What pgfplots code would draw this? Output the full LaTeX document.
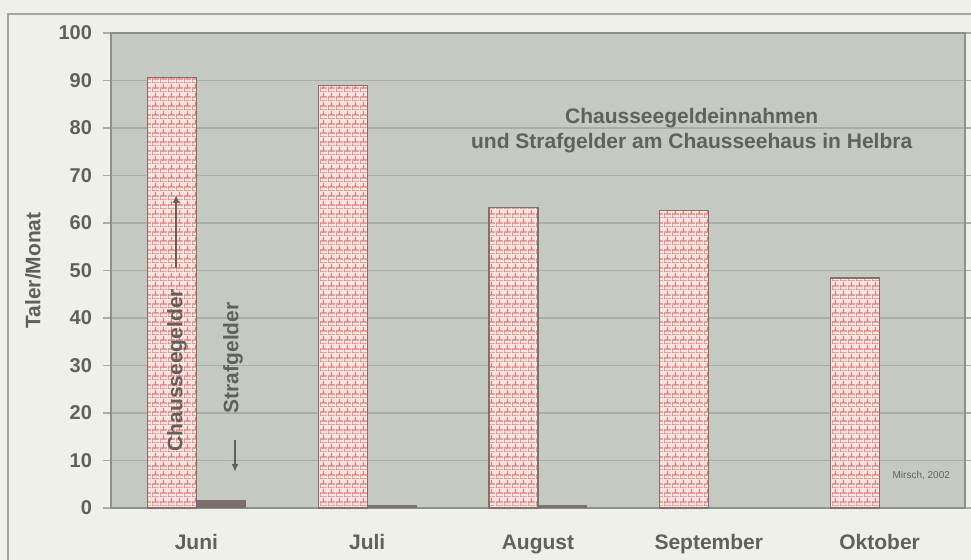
\documentclass[border=0pt]{standalone}
\usepackage{pgfplots}
\pgfplotsset{compat=1.18}
\usepackage{fontspec}
\setmainfont{Liberation Sans}
\usetikzlibrary{patterns,arrows.meta}
\definecolor{pagebg}{HTML}{F0F0EA}
\definecolor{plotbg}{HTML}{C4CAC2}
\definecolor{txt}{HTML}{5E635A}
\definecolor{gridc}{HTML}{A8AEA6}
\definecolor{border}{HTML}{8C918A}
\definecolor{brickbg}{HTML}{FCE8E3}
\definecolor{mortar}{HTML}{E4787C}
\definecolor{barline}{HTML}{80716B}
\definecolor{straf}{HTML}{7A6F6A}
\pgfdeclarepatternformonly{mybricks}{\pgfpointorigin}{\pgfpoint{4pt}{4.5pt}}{\pgfpoint{4pt}{4.5pt}}{%
  \pgfsetlinewidth{0.75pt}%
  \pgfpathmoveto{\pgfpoint{0pt}{0pt}}\pgfpathlineto{\pgfpoint{4pt}{0pt}}%
  \pgfpathmoveto{\pgfpoint{0pt}{2.25pt}}\pgfpathlineto{\pgfpoint{4pt}{2.25pt}}%
  \pgfpathmoveto{\pgfpoint{0pt}{0pt}}\pgfpathlineto{\pgfpoint{0pt}{2.25pt}}%
  \pgfpathmoveto{\pgfpoint{2pt}{2.25pt}}\pgfpathlineto{\pgfpoint{2pt}{4.5pt}}%
  \pgfusepath{stroke}}
\begin{document}
\begin{tikzpicture}
\useasboundingbox (0,0) rectangle (485.5pt,280pt);
\fill[pagebg] (0,0) rectangle (485.5pt,280pt);
\draw[border!80, line width=0.8pt] (4pt,0) -- (4pt,273pt) -- (485.5pt,273pt);
\begin{axis}[
  at={(55.5pt,26pt)}, anchor=south west,
  scale only axis, width=427pt, height=237.5pt,
  xmin=-0.5, xmax=4.5, ymin=0, ymax=100,
  ytick={0,10,...,100},
  xtick={0,1,2,3,4},
  xticklabels={Juni,Juli,August,September,Oktober},
  major x tick style={draw=none},
  major y tick style={draw=gridc, line width=0.6pt},
  tick align=outside, major tick length=4pt,
  ymajorgrids, grid style={draw=gridc, line width=0.6pt},
  axis background/.style={fill=plotbg},
  axis line style={draw=border, line width=0.7pt},
  /pgf/number format/assume math mode=true,
  ticklabel style={font=\fontsize{10}{12}\selectfont\bfseries, text=txt},
  xticklabel style={font=\fontsize{10.5}{12}\selectfont\bfseries, yshift=-5pt, text height=1.6ex, text depth=0.4ex},
  yticklabel style={xshift=-2pt},
  ylabel={Taler/Monat},
  every axis y label/.style={at={(axis description cs:-0.0913,0.5)}, anchor=center, rotate=90, font=\fontsize{10.5}{12}\selectfont\bfseries, text=txt},
  clip=false,
]
\addplot[ybar, bar width=24.5pt, bar shift=-12.25pt, draw=barline, line width=0.6pt, fill=brickbg,
  postaction={pattern=mybricks, pattern color=mortar}]
  coordinates {(0,90.6) (1,88.9) (2,63.2) (3,62.6) (4,48.4)};
\addplot[ybar, bar width=24.5pt, bar shift=12.25pt, draw=straf, fill=straf, line width=0.5pt]
  coordinates {(0,1.6) (1,0.6) (2,0.6)};
\node[align=center, font=\fontsize{10.5}{12.5}\selectfont\bfseries, text=txt] at (axis cs:2.9,79.5)
  {Chausseegeldeinnahmen\\und Strafgelder am Chausseehaus in Helbra};
\node[rotate=90, font=\fontsize{10.5}{12}\selectfont\bfseries, text=txt] at (axis cs:-0.114,29) {Chausseegelder};
\node[rotate=90, font=\fontsize{10.5}{12}\selectfont\bfseries, text=txt] at (axis cs:0.214,31.6) {Strafgelder};
\draw[txt, line width=0.7pt, -{Latex[length=4pt,width=3.5pt]}] (axis cs:-0.119,50.5) -- (axis cs:-0.119,65.9);
\draw[txt, line width=0.7pt, -{Latex[length=4pt,width=3.5pt]}] (axis cs:0.226,14.3) -- (axis cs:0.226,7.6);
\node[anchor=east, font=\fontsize{5}{6}\selectfont, text=txt] at (axis cs:4.453,6.9) {Mirsch, 2002};
\end{axis}
\end{tikzpicture}
\end{document}
